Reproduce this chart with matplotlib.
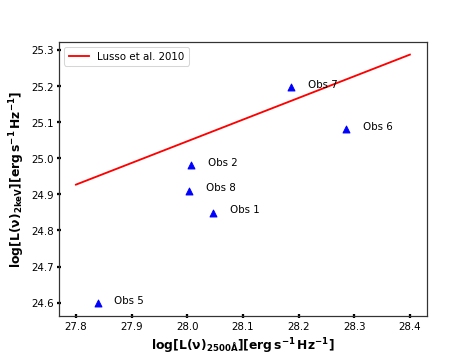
import matplotlib
matplotlib.use("Agg")
import matplotlib.pyplot as plt

# Data
lusso_x = [27.8, 28.4]
lusso_y = [24.927, 25.287]

obs_labels = ["Obs 1", "Obs 2", "Obs 5", "Obs 6", "Obs 7", "Obs 8"]
obs_x = [28.047, 28.007, 27.839, 28.286, 28.187, 28.004]
obs_y = [24.849, 24.980, 24.598, 25.081, 25.196, 24.910]

xticks = [27.8, 27.9, 28.0, 28.1, 28.2, 28.3, 28.4]
yticks = [24.6, 24.7, 24.8, 24.9, 25.0, 25.1, 25.2, 25.3]

fig, ax = plt.subplots(figsize=(6.4, 4.8), dpi=74.06)
ax.plot(lusso_x, lusso_y, color="red", lw=1.8, label="Lusso et al. 2010")
ax.scatter(obs_x, obs_y, marker="^", color="blue", s=45, zorder=3)
for lx, ly, lab in zip(obs_x, obs_y, obs_labels):
    ax.text(lx + 0.03, ly, lab, fontsize=10)

ax.set_xticks(xticks)
ax.set_yticks(yticks)
ax.tick_params(direction="inout", length=4, width=2.2, labelsize=10)
for s in ax.spines.values():
    s.set_linewidth(1.2)
    s.set_color("#333333")

ax.set_xlabel(r"$\mathbf{log[L(\nu)_{2500\AA}][erg\,s^{-1}\,Hz^{-1}]}$", fontsize=12)
ax.set_ylabel(r"$\mathbf{log[L(\nu)_{2keV}][erg\,s^{-1}\,Hz^{-1}]}$", fontsize=12)
ax.legend(loc="upper left", fontsize=10)

fig.savefig("out.png", dpi=74.06)
